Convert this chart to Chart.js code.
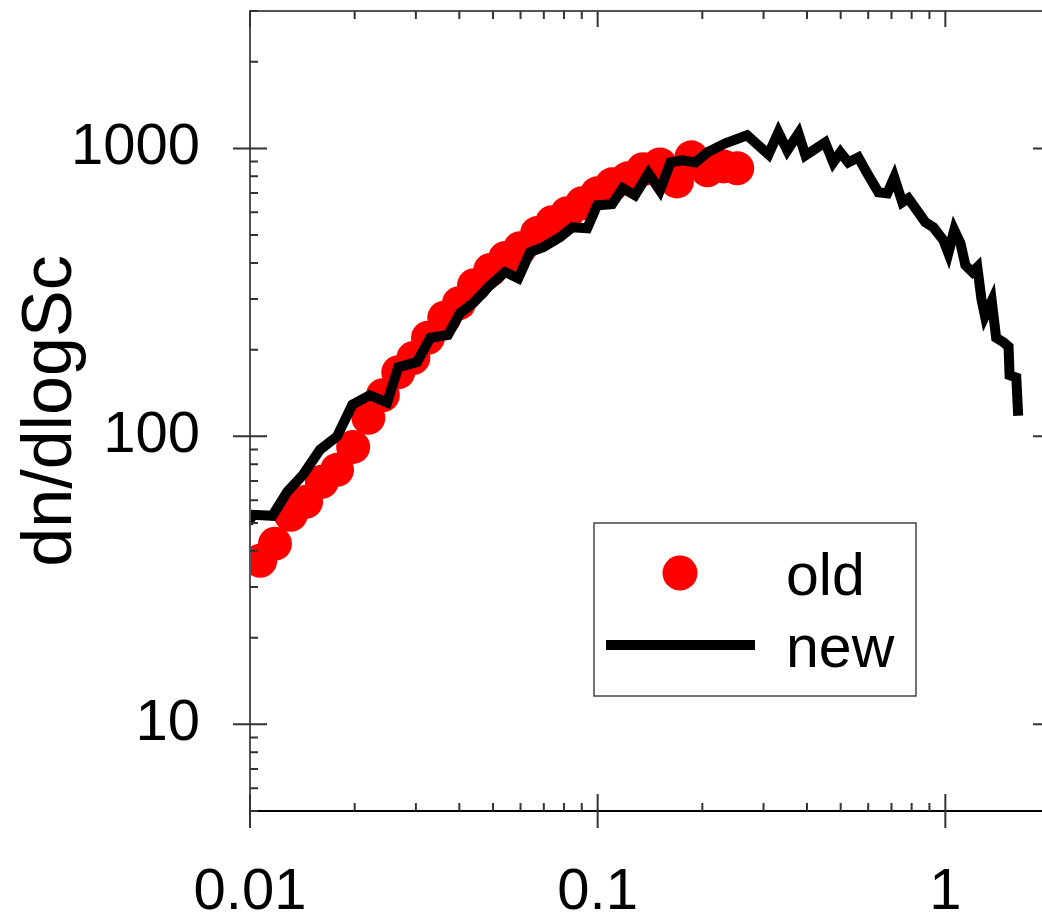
<!DOCTYPE html>
<html>
<head>
<meta charset="utf-8">
<script src="https://cdn.jsdelivr.net/npm/chart.js@4.4.1/dist/chart.umd.min.js"></script>
<style>
  html, body { margin: 0; padding: 0; background: #fff; }
  #wrap { width: 1042px; height: 923px; overflow: hidden; }
  canvas { display: block; }
</style>
</head>
<body>
<div id="wrap"><canvas id="SizeChart" width="1070" height="923"></canvas></div>
<script>
// values (Sc on x, dn/dlogSc on y)
const oldX = [0.0107, 0.0118, 0.0131, 0.0145, 0.0161, 0.0178, 0.0198, 0.0219, 0.0241, 0.0267,
              0.0295, 0.0325, 0.0362, 0.0399, 0.0441, 0.0491, 0.0542, 0.0598, 0.0670, 0.0740,
              0.0817, 0.0902, 0.0997, 0.110, 0.122, 0.135, 0.151, 0.169, 0.186, 0.207, 0.230, 0.252];
const oldY = [37.0, 42.4, 53.4, 59.3, 69.6, 76.5, 91.9, 116, 139, 167,
              187, 220, 258, 290, 335, 378, 416, 450, 508, 554,
              595, 645, 698, 750, 787, 846, 880, 768, 931, 839, 866, 853];

const newX = [0.00987, 0.0102, 0.0116, 0.0128, 0.0142, 0.0159, 0.0178, 0.0197, 0.0221, 0.0248,
              0.0267, 0.0302, 0.0330, 0.0371, 0.0402, 0.0438, 0.0491, 0.0542, 0.0591, 0.0639,
              0.0697, 0.0780, 0.0845, 0.0933, 0.0997, 0.110, 0.118, 0.128, 0.140, 0.151,
              0.162, 0.175, 0.191, 0.207, 0.233, 0.269, 0.310, 0.331, 0.351, 0.378,
              0.396, 0.451, 0.476, 0.499, 0.526, 0.562, 0.596, 0.642, 0.681, 0.713,
              0.752, 0.783, 0.876, 0.924, 0.987, 1.020, 1.061, 1.105, 1.142, 1.196,
              1.236, 1.270, 1.300, 1.36, 1.40, 1.47, 1.52, 1.53, 1.60, 1.62];
const newY = [50.1, 53.4, 53.0, 64.2, 73.5, 89.8, 100, 129, 139, 131,
              174, 181, 220, 225, 268, 290, 335, 372, 354, 436,
              454, 492, 532, 528, 635, 640, 727, 687, 819, 715,
              894, 909, 894, 969, 1041, 1110, 953, 1137, 984, 1127,
              946, 1049, 894, 969, 894, 931, 819, 704, 698, 793,
              650, 671, 554, 532, 480, 433, 520, 469, 393, 372,
              387, 300, 262, 295, 220, 212, 205, 163, 160, 118];

const xTicks = [0.01, 0.1, 1];
const yTicks = [10, 100, 1000];
const seriesNames = ['old', 'new'];
const yTitle = 'dn/dlogSc';

const FONT = '"Liberation Sans", Arial, sans-serif';

function logMarks(min, max) {
    const out = [];
    for (let e = Math.floor(Math.log10(min)); e <= Math.ceil(Math.log10(max)); e++) {
        for (let m = 1; m <= 9; m++) {
            const v = m * Math.pow(10, e);
            if (v >= min * 0.9999 && v <= max * 1.0001) out.push({ v: v, major: m === 1 });
        }
    }
    return out;
}

// box round the plot, plus ticks on all four sides
const frameTicks = {
    id: 'frameTicks',
    afterDraw(chart) {
        const ctx = chart.ctx;
        const { left, right, top, bottom } = chart.chartArea;
        const xs = chart.scales.x, ys = chart.scales.y;
        ctx.save();
        ctx.lineWidth = 2;
        ctx.strokeStyle = '#555';
        ctx.beginPath();
        ctx.moveTo(left, bottom); ctx.lineTo(left, top);
        ctx.lineTo(right, top); ctx.lineTo(right, bottom);
        ctx.stroke();
        ctx.strokeStyle = '#000';
        ctx.beginPath();
        ctx.moveTo(left - 1, bottom); ctx.lineTo(right, bottom);
        ctx.stroke();

        ctx.strokeStyle = '#333';
        ctx.beginPath();
        logMarks(xs.min, xs.max).forEach(t => {
            const px = xs.getPixelForValue(t.v);
            if (t.major) {
                ctx.moveTo(px, bottom - 17); ctx.lineTo(px, bottom + 17);
                ctx.moveTo(px, top); ctx.lineTo(px, top + 16);
            } else {
                ctx.moveTo(px, bottom - 8); ctx.lineTo(px, bottom);
                ctx.moveTo(px, top); ctx.lineTo(px, top + 8);
            }
        });
        logMarks(ys.min, ys.max).forEach(t => {
            const py = ys.getPixelForValue(t.v);
            if (t.major) {
                ctx.moveTo(left - 17, py); ctx.lineTo(left + 17, py);
                ctx.moveTo(right - 17, py); ctx.lineTo(right + 17, py);
            } else {
                ctx.moveTo(left, py); ctx.lineTo(left + 8, py);
                ctx.moveTo(right - 8, py); ctx.lineTo(right, py);
            }
        });
        ctx.stroke();
        ctx.restore();
    }
};

// legend box inside the plot
const boxLegend = {
    id: 'boxLegend',
    afterDraw(chart) {
        const ctx = chart.ctx;
        const dsOld = chart.data.datasets[0], dsNew = chart.data.datasets[1];
        ctx.save();
        ctx.fillStyle = '#fff';
        ctx.fillRect(594, 523, 322, 173);
        ctx.lineWidth = 1.5;
        ctx.strokeStyle = '#444';
        ctx.strokeRect(594, 523, 322, 173);

        ctx.fillStyle = dsOld.backgroundColor;
        ctx.beginPath();
        ctx.arc(680, 573, 17.5, 0, Math.PI * 2);
        ctx.fill();

        ctx.strokeStyle = dsNew.borderColor;
        ctx.lineWidth = 10;
        ctx.beginPath();
        ctx.moveTo(606, 645); ctx.lineTo(755, 645);
        ctx.stroke();

        ctx.fillStyle = '#000';
        ctx.font = '59px ' + FONT;
        ctx.textAlign = 'left';
        ctx.textBaseline = 'alphabetic';
        ctx.fillText(dsOld.label, 786, 595);
        ctx.fillText(dsNew.label, 786, 667);
        ctx.restore();
    }
};

new Chart(document.querySelector('#SizeChart'), {
    type: 'scatter',
    data: {
        datasets: [{
            label: seriesNames[0],
            data: oldX.map((x, i) => ({ x: x, y: oldY[i] })),
            showLine: false,
            pointRadius: 17,
            pointHoverRadius: 17,
            pointBorderWidth: 0,
            backgroundColor: '#ff0000',
            borderColor: '#ff0000',
            order: 1
        }, {
            label: seriesNames[1],
            data: newX.map((x, i) => ({ x: x, y: newY[i] })),
            showLine: true,
            pointRadius: 0,
            borderWidth: 10,
            borderColor: '#000',
            backgroundColor: '#000',
            borderJoinStyle: 'miter',
            borderCapStyle: 'butt',
            tension: 0,
            order: 0
        }]
    },
    options: {
        responsive: false,
        animation: false,
        devicePixelRatio: 1,
        layout: { autoPadding: false, padding: { top: 11, right: 20, left: 0, bottom: 0 } },
        plugins: {
            legend: { display: false },
            tooltip: { enabled: false }
        },
        scales: {
            x: {
                type: 'logarithmic',
                position: 'bottom',
                min: 0.01,
                max: 2,
                grid: { display: false, drawTicks: false },
                border: { display: false },
                afterBuildTicks: s => { s.ticks = xTicks.map(v => ({ value: v })); },
                afterFit: s => { s.height = 112; s.paddingLeft = 0; s.paddingRight = 0; },
                ticks: {
                    font: { family: FONT, size: 58, lineHeight: 1.2 },
                    color: '#000',
                    padding: 47,
                    maxRotation: 0,
                    autoSkip: false,
                    callback: v => String(v)
                }
            },
            y: {
                type: 'logarithmic',
                position: 'left',
                min: 5,
                max: 3000,
                grid: { display: false, drawTicks: false },
                border: { display: false },
                afterBuildTicks: s => { s.ticks = yTicks.map(v => ({ value: v })); },
                afterFit: s => { s.width = 250; s.paddingTop = 0; s.paddingBottom = 0; },
                ticks: {
                    font: { family: FONT, size: 58, lineHeight: 1.2 },
                    color: '#000',
                    padding: 50,
                    autoSkip: false,
                    callback: v => String(v)
                },
                title: {
                    display: true,
                    text: yTitle,
                    color: '#000',
                    font: { family: FONT, size: 70, lineHeight: 1.2 },
                    padding: { top: 10, bottom: 0 }
                }
            }
        }
    },
    plugins: [frameTicks, boxLegend]
});
</script>
</body>
</html>
